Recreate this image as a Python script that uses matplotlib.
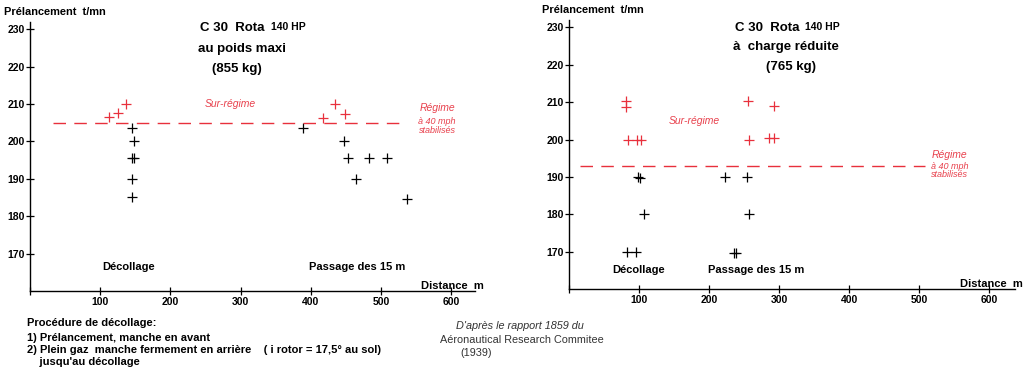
import matplotlib
matplotlib.use("Agg")
import matplotlib.pyplot as plt

plt.rcParams['font.family'] = ['Liberation Sans', 'DejaVu Sans']

# C 30 Rota at max weight (855 kg)
left_black_x = [145, 148, 389, 447, 145, 148, 145, 145, 453, 464, 483, 509, 537]
left_black_y = [203.5, 200, 203.5, 200, 195.5, 195.5, 190, 185, 195.5, 190, 195.5, 195.5, 184.7]
left_red_x = [113, 126, 137, 417, 434, 449]
left_red_y = [206.5, 207.5, 210, 206.2, 210, 207.3]
left_regime = 205
left_regime_span = [33, 534]

# C 30 Rota at reduced load (765 kg)
right_black_x = [99, 101, 107, 223, 254, 257, 83, 96, 236, 239]
right_black_y = [190, 189.6, 180, 190, 190, 180, 170, 170, 169.7, 169.7]
right_red_x = [81, 81, 84, 97, 103, 256, 293, 257, 286, 293]
right_red_y = [210.2, 208.6, 200, 200, 200, 210.3, 209, 199.8, 200.4, 200.4]
right_regime = 193
right_regime_span = [16, 509]

y_ticks = [170, 180, 190, 200, 210, 220, 230]
x_ticks = [0, 100, 200, 300, 400, 500, 600]
x_labels = ['', '100', '200', '300', '400', '500', '600']

RED = '#e8303c'
RED_TXT = '#e8404c'

W, H = 1024, 372
fig = plt.figure(figsize=(W / 100, H / 100), dpi=100)


def px(x, y):
    return x / W, 1 - y / H


def setup(ax, xmax, ymax):
    ax.set_xlim(0, xmax)
    ax.set_ylim(160, ymax)
    for s in ['top', 'right']:
        ax.spines[s].set_visible(False)
    for s in ['left', 'bottom']:
        ax.spines[s].set_linewidth(1.0)
    ax.set_yticks(y_ticks)
    ax.set_xticks(x_ticks)
    ax.set_xticklabels(x_labels)
    ax.tick_params(direction='inout', length=6, width=0.9, labelsize=7.5, pad=1)
    for lab in ax.get_xticklabels() + ax.get_yticklabels():
        lab.set_fontweight('bold')
    ax.patch.set_alpha(0)


def draw(ax, bx, by, rx, ry, reg, span):
    ax.plot(bx, by, '+', color='black', ms=6.5, mew=0.9, clip_on=False)
    ax.plot(rx, ry, '+', color=RED, ms=6.5, mew=0.9, clip_on=False)
    ax.plot(span, [reg, reg], color=RED, lw=1.0, ls=(0, (9, 6)))


def regime(ax, x, ys):
    ax.text(x, ys[0], 'Régime', color=RED_TXT, style='italic', fontsize=7.5,
            ha='center', va='center', clip_on=False)
    ax.text(x, ys[1], 'à 40 mph', color=RED_TXT, style='italic', fontsize=6.5,
            ha='center', va='center', clip_on=False)
    ax.text(x, ys[2], 'stabilisés', color=RED_TXT, style='italic', fontsize=6.5,
            ha='center', va='center', clip_on=False)


# left chart
axl = fig.add_axes([30 / W, 1 - 291 / H, 445 / W, 269 / H])
setup(axl, 634, 231.9)
draw(axl, left_black_x, left_black_y, left_red_x, left_red_y, left_regime, left_regime_span)
axl.text(286, 210, 'Sur-régime', color=RED_TXT, style='italic', fontsize=7.5,
         ha='center', va='center')
regime(axl, 580, [208.9, 205.4, 203.0])
axl.text(141, 166.5, 'Décollage', fontsize=8, fontweight='bold', ha='center', va='center')
axl.text(466, 166.5, 'Passage des 15 m', fontsize=8, fontweight='bold', ha='center', va='center')
axl.text(557, 161.4, 'Distance  m', fontsize=8, fontweight='bold', ha='left', va='center',
         clip_on=False)

# right chart
axr = fig.add_axes([569 / W, 1 - 289 / H, 446 / W, 269 / H])
setup(axr, 637, 232)
draw(axr, right_black_x, right_black_y, right_red_x, right_red_y, right_regime, right_regime_span)
axr.text(179, 205.1, 'Sur-régime', color=RED_TXT, style='italic', fontsize=7.5,
         ha='center', va='center')
regime(axr, 544, [196.0, 192.8, 190.6])
axr.text(100, 165.2, 'Décollage', fontsize=8, fontweight='bold', ha='center', va='center')
axr.text(267, 165.2, 'Passage des 15 m', fontsize=8, fontweight='bold', ha='center', va='center')
axr.text(559, 161.3, 'Distance  m', fontsize=8, fontweight='bold', ha='left', va='center',
         clip_on=False)

# y axis names
fig.text(*px(4, 12), 'Prélancement  t/mn', fontsize=7.9, fontweight='bold', va='center')
fig.text(*px(542, 10), 'Prélancement  t/mn', fontsize=7.9, fontweight='bold', va='center')

# titles
fig.text(*px(200, 28), 'C 30  Rota', fontsize=9.5, fontweight='bold', va='center')
fig.text(*px(271, 27), '140 HP', fontsize=7.5, fontweight='bold', va='center')
fig.text(*px(242, 49), 'au poids maxi', fontsize=9.5, fontweight='bold', ha='center', va='center')
fig.text(*px(237, 69), '(855 kg)', fontsize=9.5, fontweight='bold', ha='center', va='center')

fig.text(*px(735, 28), 'C 30  Rota', fontsize=9.5, fontweight='bold', va='center')
fig.text(*px(805, 27), '140 HP', fontsize=7.5, fontweight='bold', va='center')
fig.text(*px(786, 47), 'à  charge réduite', fontsize=9.5, fontweight='bold', ha='center', va='center')
fig.text(*px(791, 67), '(765 kg)', fontsize=9.5, fontweight='bold', ha='center', va='center')

# procedure notes
notes = ['Procédure de décollage:',
         '1) Prélancement, manche en avant',
         '2) Plein gaz  manche fermement en arrière    ( i rotor = 17,5° au sol)',
         '    jusqu\'au décollage']
for txt, yy in zip(notes, [323, 338, 350, 362]):
    fig.text(*px(27, yy), txt, fontsize=8, fontweight='bold', va='center')

# source
fig.text(*px(520, 326), "D'après le rapport 1859 du", fontsize=7.8, style='italic',
         color='#333333', ha='center', va='center')
fig.text(*px(522, 340), 'Aéronautical Research Commitee', fontsize=7.8,
         color='#333333', ha='center', va='center')
fig.text(*px(476, 353), '(1939)', fontsize=7.8, color='#333333', ha='center', va='center')

fig.savefig('out.png', dpi=100)
